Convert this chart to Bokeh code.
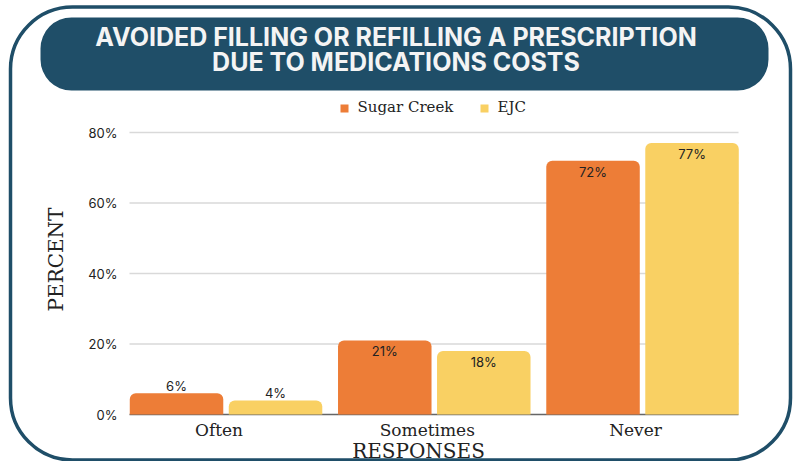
from math import pi
from bokeh.plotting import figure
from bokeh.models import Range1d
from bokeh.core.properties import value
from bokeh.embed import file_html
from bokeh.resources import INLINE

# ---------------- data ----------------
categories = ["Often", "Sometimes", "Never"]
sugar_creek = [6, 21, 72]
ejc = [4, 18, 77]
series_names = ["Sugar Creek", "EJC"]
y_ticks = [0, 20, 40, 60, 80]
title_lines = ["AVOIDED FILLING OR REFILLING A PRESCRIPTION", "DUE TO MEDICATIONS COSTS"]
x_title = "RESPONSES"
y_title = "PERCENT"

# ---------------- style / layout (pixels) ----------------
ORANGE = "#ED7D37"
YELLOW = "#F9D063"
series_colors = [ORANGE, YELLOW]
TEAL = "#1F4E68"
TXT = "#222222"
SERIF = "DejaVu Serif"
SANS = "Inter"

W, H = 793, 461
PLOT_L, PLOT_R = 129, 738          # horizontal extent of the plot area
ZERO_Y, TOP_Y = 414, 132           # pixel rows of 0 % and of the top tick
UNIT_X = 208.25                    # pixels per category
ORIGIN_X = 121.4                   # pixel of category coordinate 0
K_Y = (ZERO_Y - TOP_Y) / y_ticks[-1]   # pixels per percent

p = figure(width=W, height=H,
           x_range=Range1d(0, W), y_range=Range1d(H, 0),
           x_axis_type=None, y_axis_type=None,
           output_backend="svg", toolbar_location=None,
           min_border=0)
p.outline_line_color = None
p.background_fill_color = "white"
p.border_fill_color = "white"

# data scales: categories across, percent up
p.extra_x_ranges = {"cat": Range1d(-ORIGIN_X / UNIT_X, (W - ORIGIN_X) / UNIT_X)}
p.extra_y_ranges = {"pct": Range1d(-(H - ZERO_Y) / K_Y, ZERO_Y / K_Y)}

# ---------------- frame decorations ----------------
p.quad(left=10, right=790, top=6.5, bottom=459.5, fill_color=None,
       line_color=TEAL, line_width=3.5, border_radius=62)
p.quad(left=40, right=768, top=17, bottom=90, fill_color=TEAL, line_color=None,
       border_radius=31)
p.text(x=[395.5] * len(title_lines), y=[36.5 + 25 * i for i in range(len(title_lines))],
       text=title_lines, text_align="center", text_baseline="middle",
       text_font=value(SANS), text_font_style="bold", text_font_size="25px",
       text_color="#F4F4F4")

# ---------------- grid and axes ----------------
grid_ticks = y_ticks[1:]
p.segment(x0=[PLOT_L] * len(grid_ticks), x1=[PLOT_R] * len(grid_ticks),
          y0=grid_ticks, y1=grid_ticks, y_range_name="pct",
          line_color="#D9D9D9", line_width=1.6)
p.segment(x0=[PLOT_L], x1=[PLOT_R], y0=[y_ticks[0]], y1=[y_ticks[0]], y_range_name="pct",
          line_color="#666666", line_width=1.5)
p.text(x=[117] * len(y_ticks), y=y_ticks, text=[f"{t}%" for t in y_ticks],
       y_range_name="pct", text_align="right", text_baseline="middle",
       text_font=value(SANS), text_font_size="13px", text_color=TXT)

centers = [i + 0.5 for i in range(len(categories))]
p.text(x=centers, y=[429.5] * len(categories), text=categories, x_range_name="cat",
       x_offset=-7, text_align="center", text_baseline="middle",
       text_font=value(SERIF), text_font_size="17px", text_color=TXT)

p.text(x=[418], y=[450], text=[x_title], text_align="center", text_baseline="middle",
       text_font=value(SERIF), text_font_size="20px", text_color=TXT)
p.text(x=[55], y=[259], text=[y_title], angle=pi / 2, text_align="center",
       text_baseline="middle",
       text_font=value(SERIF), text_font_size="20px", text_color=TXT)

# ---------------- bars ----------------
OFF = 0.2377
BW = 0.449
for vals, color, sign in [(sugar_creek, ORANGE, -1), (ejc, YELLOW, 1)]:
    xs = [c + sign * OFF for c in centers]
    p.vbar(x=xs, top=vals, bottom=0, width=BW, x_range_name="cat", y_range_name="pct",
           fill_color=color, line_color=None, border_radius=(6, 6, 0, 0))
    p.text(x=xs, y=vals, text=[f"{v}%" for v in vals],
           y_offset=[11 if v >= 10 else -7 for v in vals],
           x_range_name="cat", y_range_name="pct",
           text_align="center", text_baseline="middle",
           text_font=value(SANS), text_font_size="13px", text_color=TXT)

# ---------------- legend ----------------
legend_x = [344, 484]
p.rect(x=legend_x, y=[108] * len(series_names), width=8, height=8,
       fill_color=series_colors, line_color=None)
p.text(x=[lx + 13 for lx in legend_x], y=[106.5] * len(series_names), text=series_names,
       text_align="left", text_baseline="middle",
       text_font=value(SERIF), text_font_size="15px", text_color=TXT)

open("out.html", "w").write(file_html(p, INLINE))
